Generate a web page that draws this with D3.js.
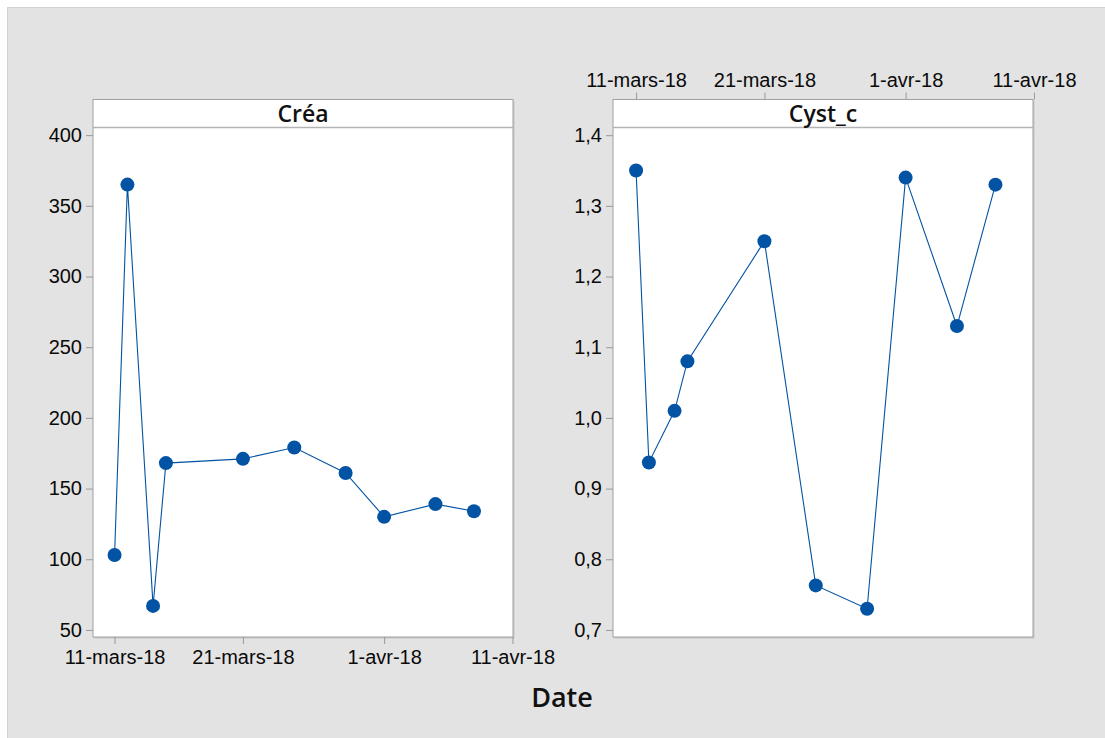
<!DOCTYPE html>
<html>
<head>
<meta charset="utf-8">
<script src="https://cdn.jsdelivr.net/npm/d3@7"></script>
<style>
  body { margin: 0; background: #fff; }
  svg { display: block; font-family: "Open Sans", "Noto Sans", sans-serif; }
</style>
</head>
<body>
<svg width="1105" height="738"></svg>
<script>
// dates of the samples (2018)
var dates = ["2018-03-11", "2018-03-12", "2018-03-14", "2018-03-15", "2018-03-21",
             "2018-03-25", "2018-03-29", "2018-04-01", "2018-04-05", "2018-04-08"];
var creaValues = [103, 365, 67, 168, 171, 179, 161, 130, 139, 134];
var cystValues = [1.35, 0.937, 1.01, 1.08, 1.25, 0.763, 0.73, 1.34, 1.13, 1.33];

var dateTicks = ["2018-03-11", "2018-03-21", "2018-04-01", "2018-04-11"];
var dateTickLabels = ["11-mars-18", "21-mars-18", "1-avr-18", "11-avr-18"];
var creaTicks = [50, 100, 150, 200, 250, 300, 350, 400];
var cystTicks = [0.7, 0.8, 0.9, 1.0, 1.1, 1.2, 1.3, 1.4];

var parse = d3.timeParse("%Y-%m-%d");
var fr = d3.formatLocale({decimal: ",", thousands: " ", grouping: [3], currency: ["", " €"]});

var svg = d3.select("svg");
var blue = "#0353a4";

// grey background panel
svg.append("rect")
    .attr("x", 7.5).attr("y", 7.5)
    .attr("width", 1105).attr("height", 738)
    .attr("fill", "#e3e3e3")
    .attr("stroke", "#d2d2d2");

var boxTop = 99.5, boxBottom = 637, headerH = 28;

function drawPanel(left, shift, title, values, yDomain, yTicks, yFmt, axisTop) {
    var g = svg.append("g").attr("transform", "translate(" + left + ",0)");
    var y = d3.scaleLinear().domain(yDomain).range([boxBottom, boxTop]);
    var x = d3.scaleTime()
        .domain([new Date(2018, 2, 9, 7, 40), new Date(2018, 3, 11, 1)])
        .range([shift, 420 + shift]);

    // box
    g.append("rect")
        .attr("x", 1.5).attr("y", boxTop + 1.5)
        .attr("width", 420).attr("height", boxBottom - boxTop)
        .attr("fill", "#c8c8c8");
    g.append("rect")
        .attr("x", 0).attr("y", boxTop)
        .attr("width", 420).attr("height", boxBottom - boxTop)
        .attr("fill", "#fff")
        .attr("stroke", "#a0a0a0");
    g.append("line")
        .attr("x1", 0).attr("x2", 420)
        .attr("y1", boxTop + headerH).attr("y2", boxTop + headerH)
        .attr("stroke", "#b4b4b4").attr("stroke-width", 1.5);
    g.append("text")
        .attr("x", 210).attr("y", boxTop + headerH / 2)
        .attr("dy", "0.36em")
        .attr("text-anchor", "middle")
        .attr("font-size", 23).attr("font-weight", 600)
        .attr("fill", "#111")
        .text(title);

    // y axis
    var ya = g.append("g")
        .call(d3.axisLeft(y).tickValues(yTicks).tickFormat(yFmt).tickSize(7).tickPadding(4));
    ya.select(".domain").remove();
    ya.selectAll("line").attr("stroke", "#999");
    ya.selectAll("text").attr("font-size", 20)
        .attr("fill", "#0a0a0a").attr("font-family", null);

    // x axis
    var tickDates = dateTicks.map(parse);
    var xa = g.append("g")
        .attr("transform", "translate(0," + (axisTop ? boxTop : boxBottom) + ")")
        .call((axisTop ? d3.axisTop(x) : d3.axisBottom(x))
            .tickValues(tickDates)
            .tickFormat(function(d, i) { return dateTickLabels[i]; })
            .tickSize(7).tickPadding(6));
    xa.select(".domain").remove();
    xa.selectAll("line").attr("stroke", "#999");
    xa.selectAll("text").attr("font-size", 20)
        .attr("fill", "#0a0a0a").attr("font-family", null);

    // series
    var pts = dates.map(function(d, i) { return {date: parse(d), v: values[i]}; });
    var line = d3.line()
        .x(function(d) { return x(d.date); })
        .y(function(d) { return y(d.v); });
    g.append("path")
        .datum(pts)
        .attr("fill", "none")
        .attr("stroke", blue)
        .attr("stroke-width", 1.1)
        .attr("d", line);
    g.selectAll("circle")
        .data(pts)
        .enter().append("circle")
        .attr("cx", function(d) { return x(d.date); })
        .attr("cy", function(d) { return y(d.v); })
        .attr("r", 7)
        .attr("fill", blue);
}

drawPanel(93, 0, "Créa", creaValues, [45, 425.2], creaTicks, function(d) { return d; }, false);
drawPanel(613, 1.5, "Cyst_c", cystValues, [0.690, 1.4505], cystTicks, fr.format(".1f"), true);

svg.append("text")
    .attr("x", 562).attr("y", 707)
    .attr("text-anchor", "middle")
    .attr("font-size", 27).attr("font-weight", 600)
    .attr("fill", "#111")
    .text("Date");
</script>
</body>
</html>
